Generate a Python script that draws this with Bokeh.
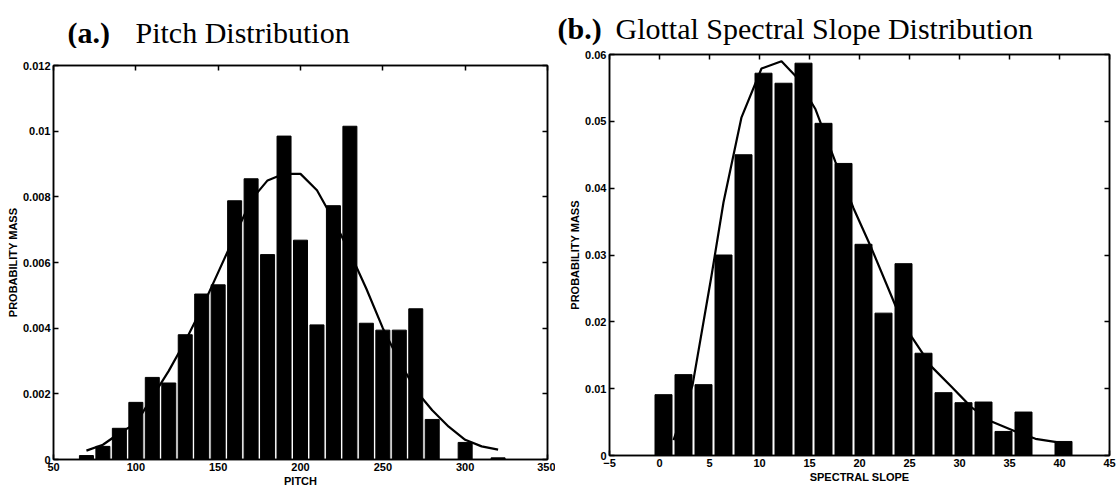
from bokeh.plotting import figure
from bokeh.layouts import row, column
from bokeh.models import LinearAxis, FixedTicker, Range1d
from bokeh.core.properties import value
from bokeh.embed import file_html
from bokeh.resources import INLINE

# ---------------- data ----------------
pitch_centers = [70, 80, 90, 100, 110, 120, 130, 140, 150, 160, 170, 180, 190,
                 200, 210, 220, 230, 240, 250, 260, 270, 280, 290, 300, 310, 320]
pitch_mass = [0.00012, 0.0004, 0.00095, 0.00174, 0.0025, 0.00233, 0.0038, 0.00504,
              0.00532, 0.00788, 0.00855, 0.00624, 0.00985, 0.00668, 0.0041, 0.00773,
              0.01015, 0.00415, 0.00394, 0.00394, 0.00459, 0.00122, 0.0, 0.00052,
              0.0, 0.00005]
pitch_fit = [0.00027, 0.00045, 0.0008, 0.0011, 0.0019, 0.0027, 0.0036, 0.0046,
             0.0057, 0.0068, 0.0079, 0.0085, 0.0087, 0.0087, 0.0082, 0.0073,
             0.0063, 0.0052, 0.0040, 0.0030, 0.0021, 0.0015, 0.0010, 0.0006,
             0.0004, 0.0003]

slope_centers = [0.4, 2.4, 4.4, 6.4, 8.4, 10.4, 12.4, 14.4, 16.4, 18.4, 20.4,
                 22.4, 24.4, 26.4, 28.4, 30.4, 32.4, 34.4, 36.4, 38.4, 40.4]
slope_mass = [0.0091, 0.0121, 0.0106, 0.0300, 0.0450, 0.0572, 0.0557, 0.0587,
              0.0497, 0.0437, 0.0316, 0.0213, 0.0287, 0.0153, 0.0094, 0.0079,
              0.0080, 0.0036, 0.0065, 0.0, 0.0021]
slope_fit_x = [1.4, 3.3, 5.2, 6.4, 8.2, 10.2, 12.2, 13.6, 15.6, 17.6, 19.4, 21.2,
               23.6, 25.2, 27.2, 29.2, 31.2, 33.2, 35.6, 37.6, 40.2]
slope_fit = [0.0023, 0.0105, 0.0269, 0.0379, 0.0506, 0.0579, 0.0590, 0.0568,
             0.0518, 0.0439, 0.0370, 0.0310, 0.0224, 0.0178, 0.0133, 0.0103,
             0.0072, 0.0051, 0.0036, 0.0025, 0.0019]

pitch_xticks = [50, 100, 150, 200, 250, 300, 350]
pitch_yticks = [0, 0.002, 0.004, 0.006, 0.008, 0.01, 0.012]
pitch_ylabels = ["0", "0.002", "0.004", "0.006", "0.008", "0.01", "0.012"]
slope_xticks = [-5, 0, 5, 10, 15, 20, 25, 30, 35, 40, 45]
slope_yticks = [0, 0.01, 0.02, 0.03, 0.04, 0.05, 0.06]
slope_ylabels = ["0", "0.01", "0.02", "0.03", "0.04", "0.05", "0.06"]

title_tags = ["(a.)", "(b.)"]
title_texts = ["Pitch Distribution", "Glottal Spectral Slope Distribution"]

AXFONT = "Liberation Sans"
TFONT = "Liberation Serif"


def style(p, xticks, yticks, ylabels, xlabel):
    p.xgrid.visible = False
    p.ygrid.visible = False
    p.outline_line_color = "black"
    p.outline_line_width = 1.5
    p.xaxis.ticker = FixedTicker(ticks=xticks)
    p.yaxis.ticker = FixedTicker(ticks=yticks)
    p.yaxis.major_label_overrides = {v: s for v, s in zip(yticks, ylabels)}
    p.xaxis.axis_label = xlabel
    p.yaxis.axis_label = "PROBABILITY MASS"
    for ax in (p.xaxis[0], p.yaxis[0]):
        ax.axis_line_color = "black"
        ax.axis_line_width = 1.5
        ax.major_tick_in = 5
        ax.major_tick_out = 0
        ax.major_tick_line_color = "black"
        ax.major_tick_line_width = 1.5
        ax.minor_tick_line_color = None
        ax.major_label_text_font = AXFONT
        ax.major_label_text_font_style = "bold"
        ax.major_label_text_font_size = "11px"
        ax.major_label_text_color = "black"
        ax.axis_label_text_font = AXFONT
        ax.axis_label_text_font_style = "bold"
        ax.axis_label_text_font_size = "11px"
        ax.axis_label_text_color = "black"
        ax.axis_label_standoff = 1
        ax.major_label_standoff = 3
    for loc, ticks in (("above", xticks), ("right", yticks)):
        ax = LinearAxis(ticker=FixedTicker(ticks=ticks))
        ax.axis_line_color = "black"
        ax.axis_line_width = 1.5
        ax.major_tick_in = 5
        ax.major_tick_out = 0
        ax.major_tick_line_color = "black"
        ax.major_tick_line_width = 1.5
        ax.minor_tick_line_color = None
        ax.major_label_text_font_size = "1px"
        ax.major_label_text_color = None
        ax.major_label_text_alpha = 0
        ax.major_label_standoff = 0
        p.add_layout(ax, loc)


# ---------------- title strip ----------------
tf = figure(width=1116, height=48, x_range=Range1d(0, 1116), y_range=Range1d(48, 0),
            output_backend="svg", toolbar_location=None, min_border=0,
            title=None, frame_align=False)
tf.axis.visible = False
tf.grid.visible = False
tf.outline_line_color = None
tf.text(x=[67, 557], y=[32, 28], text=title_tags, text_font=value(TFONT),
        text_font_style="bold", text_font_size="30px", text_baseline="alphabetic",
        text_color="black")
tf.text(x=[135, 615], y=[32, 28], text=title_texts, text_font=value(TFONT),
        text_font_size="30px", text_baseline="alphabetic", text_color="black")

# ---------------- panel (a) ----------------
p1 = figure(width=555, height=441, x_range=(50, 350), y_range=(0, 0.012),
            output_backend="svg", toolbar_location=None, frame_align=False,
            min_border_left=53, min_border_right=8, min_border_top=17,
            min_border_bottom=27)
p1.vbar(x=pitch_centers, top=pitch_mass, width=8.5, bottom=0,
        fill_color="black", line_color="black")
p1.line(pitch_centers, pitch_fit, line_color="black", line_width=2.2)
style(p1, pitch_xticks, pitch_yticks, pitch_ylabels, "PITCH")

# ---------------- panel (b) ----------------
p2 = figure(width=561, height=441, x_range=(-5, 45), y_range=(0, 0.06),
            output_backend="svg", toolbar_location=None, frame_align=False,
            min_border_left=54, min_border_right=7, min_border_top=6,
            min_border_bottom=34)
p2.vbar(x=slope_centers, top=slope_mass, width=1.7, bottom=0,
        fill_color="black", line_color="black")
p2.line(slope_fit_x, slope_fit, line_color="black", line_width=2.2)
style(p2, slope_xticks, slope_yticks, slope_ylabels, "SPECTRAL SLOPE")

layout = column(tf, row(p1, p2))
open("out.html", "w").write(file_html(layout, INLINE))
